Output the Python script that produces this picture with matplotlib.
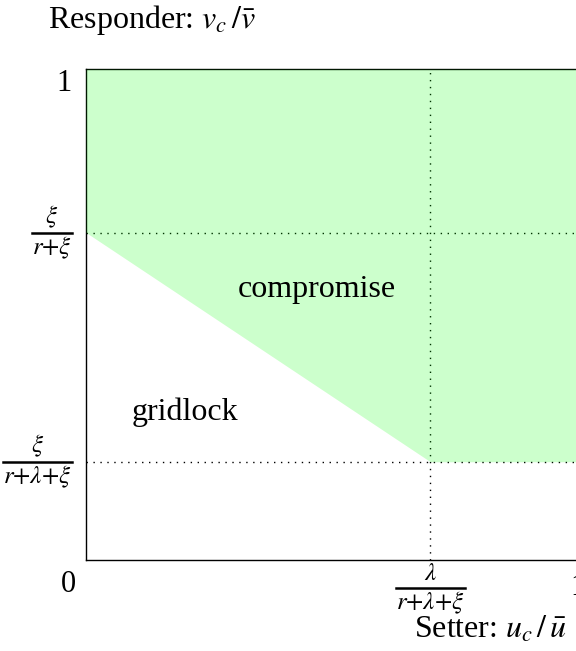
import matplotlib
matplotlib.use("Agg")
import matplotlib.pyplot as plt
from matplotlib.transforms import IdentityTransform
from matplotlib.lines import Line2D

plt.rcParams["font.family"] = ["Liberation Serif", "DejaVu Serif"]
plt.rcParams["mathtext.fontset"] = "stix"

# region boundaries (share of the pie)
x_pts = [0.0, 0.7, 1.0]
lower_pts = [0.667, 0.2, 0.2]
x_cut = 0.7
y_low = 0.2
y_high = 0.667

# fraction tick labels: (position, numerator, denominator)
xfracs = [(0.7, r"$\lambda$", r"$r{+}\lambda{+}\xi$")]
yfracs = [(0.2, r"$\xi$", r"$r{+}\lambda{+}\xi$"),
          (0.667, r"$\xi$", r"$r{+}\xi$")]

fig = plt.figure(figsize=(5.76, 6.51), dpi=100)
ax = fig.add_axes([0.1493, 0.1398, 0.8542, 0.7542])
ax.set_xlim(0, 1)
ax.set_ylim(0, 1)

for s in ["left", "bottom", "top"]:
    ax.spines[s].set_color("black")
    ax.spines[s].set_linewidth(1.0)
ax.spines["right"].set_visible(False)

# dotted guides
dot = (0, (1, 4))
ax.plot([0, 1], [y_high, y_high], color="black", lw=1, ls=dot, zorder=2)
ax.plot([0, 1], [y_low, y_low], color="black", lw=1, ls=dot, zorder=2)
ax.plot([x_cut, x_cut], [0, 1], color="black", lw=1, ls=dot, zorder=2)

# compromise region, translucent on top of the lines
ax.fill_between(x_pts, lower_pts, 1, color=(0, 1, 0), alpha=0.2, lw=0, zorder=3)

ax.text(0.309, 0.536, "compromise", fontsize=23, ha="left", va="baseline", zorder=4)
ax.text(0.093, 0.285, "gridlock", fontsize=23, ha="left", va="baseline", zorder=4)

# plain ticks: only the "1"s get normal labels
ax.set_xticks([1.0])
ax.set_xticklabels(["1"])
ax.set_yticks([1.0])
ax.set_yticklabels(["1"])
ax.tick_params(axis="both", length=0, labelsize=22)
ax.tick_params(axis="x", pad=9.4)
ax.tick_params(axis="y", pad=10)
ax.get_yticklabels()[0].set_va("top")

ax.annotate("0", xy=(0, 0), xytext=(-13, -18), textcoords="offset points",
            fontsize=22, ha="center", va="center")

# hand-built TeX-like fractions
renderer = fig.canvas.get_renderer()
ident = IdentityTransform()
fsz = 18


def frac(xd, yd, num, den, ha):
    t_den = fig.text(xd, yd - 2, den, fontsize=fsz, ha=ha, va="top", transform=ident)
    bb = t_den.get_window_extent(renderer)
    xc = (bb.x0 + bb.x1) / 2
    fig.text(xc, yd + 3, num, fontsize=fsz, ha="center", va="bottom", transform=ident)
    fig.add_artist(Line2D([bb.x0, bb.x1], [yd, yd], color="black", lw=1.8,
                          transform=ident))


for pos, num, den in xfracs:
    px, py = ax.transData.transform((pos, 0))
    frac(px, py - 28, num, den, "center")
for pos, num, den in yfracs:
    px, py = ax.transData.transform((0, pos))
    frac(px - 14, py, num, den, "right")

fig.text(48 / 576, 1 - 28 / 651, r"Responder: $v_c\,/\bar{v}$", fontsize=23,
         ha="left", va="baseline")
fig.text(567 / 576, 1 - 638 / 651, r"Setter: $u_c\,/\,\bar{u}$", fontsize=23,
         ha="right", va="baseline")

fig.savefig("out.png", dpi=100)
